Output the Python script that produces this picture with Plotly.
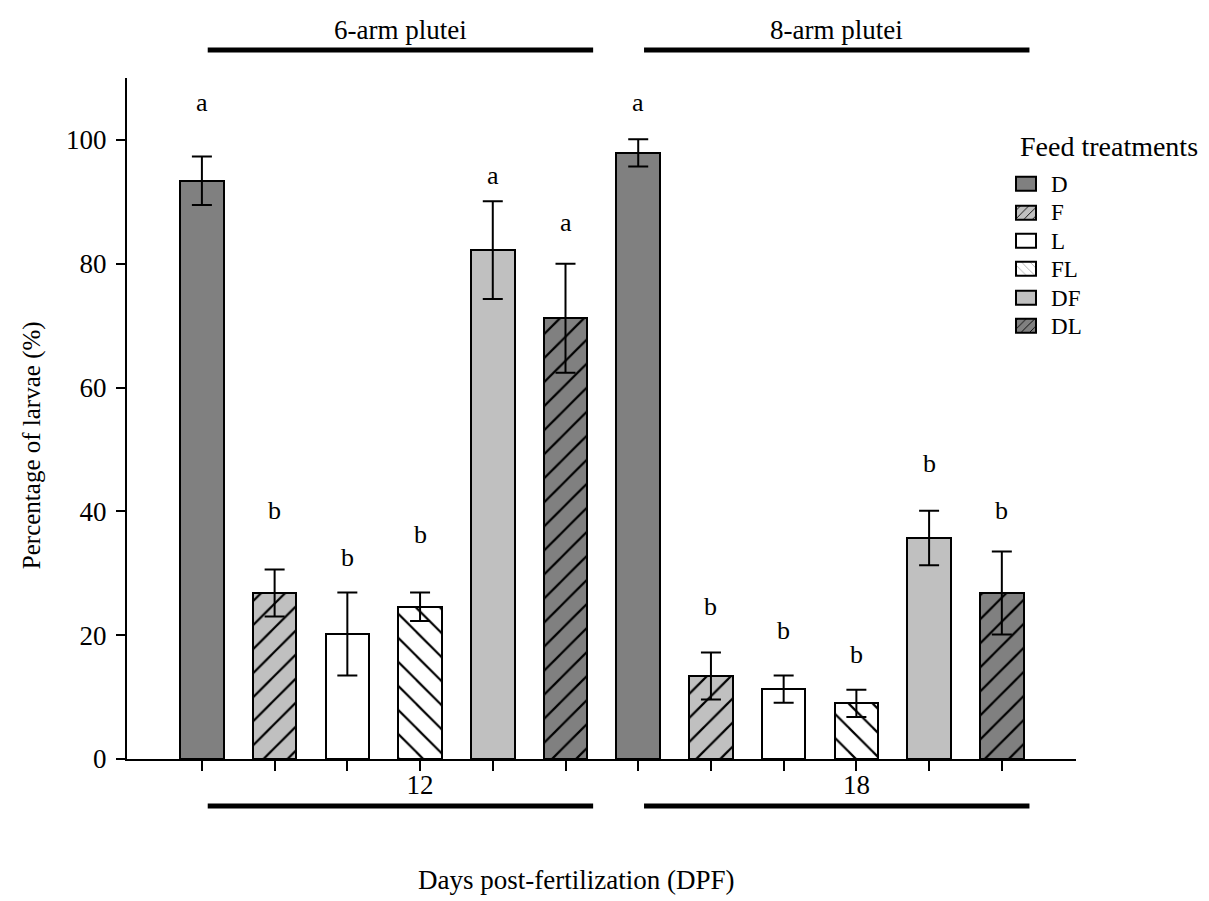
import plotly.graph_objects as go

# Feed treatments and their bar styles
treatments = ["D", "F", "L", "FL", "DF", "DL"]
fill_colors = ["#808080", "#c0c0c0", "#ffffff", "#ffffff", "#c0c0c0", "#808080"]
hatches = ["", "/", "", "\\", "", "/"]

# Percentage of larvae (mean and error) at 12 and 18 DPF
day12_mean = [93.4, 26.8, 20.2, 24.6, 82.2, 71.2]
day12_err = [3.9, 3.8, 6.7, 2.3, 7.9, 8.8]
day18_mean = [97.9, 13.4, 11.3, 9.0, 35.7, 26.8]
day18_err = [2.2, 3.8, 2.2, 2.2, 4.4, 6.7]

# Significance letters and the height they are written at
day12_letters = ["a", "b", "b", "b", "a", "a"]
day18_letters = ["a", "b", "b", "b", "b", "b"]
day12_letter_y = [106.0, 40.2, 32.6, 36.2, 94.2, 86.6]
day18_letter_y = [106.0, 24.7, 20.7, 16.8, 47.8, 40.2]

days = ["12", "18"]
stages = ["6-arm plutei", "8-arm plutei"]

FONT = "Liberation Serif"
n = len(treatments)

fig = go.Figure()

for i, t in enumerate(treatments):
    fig.add_trace(go.Bar(
        x=[i, i + n],
        y=[day12_mean[i], day18_mean[i]],
        width=0.6,
        name=t,
        marker=dict(
            color=fill_colors[i],
            line=dict(color="black", width=2),
            pattern=dict(shape=hatches[i], fgcolor="black", bgcolor=fill_colors[i],
                         size=17, solidity=0.13, fillmode="replace"),
        ),
        error_y=dict(type="data", array=[day12_err[i], day18_err[i]],
                     color="black", thickness=2, width=10),
        showlegend=False,
        xaxis="x", yaxis="y",
    ))

# Key: small swatches on their own axes, labelled by the treatment names
for i, t in enumerate(treatments):
    fig.add_trace(go.Bar(
        x=[1], y=[t], base=0, orientation="h", width=0.5,
        marker=dict(
            color=fill_colors[i],
            line=dict(color="black", width=2),
            pattern=dict(shape=hatches[i], fgcolor="black" if i != 3 else "#b0b0b0",
                         bgcolor=fill_colors[i], size=6, solidity=0.15, fillmode="replace"),
        ),
        showlegend=False, hoverinfo="skip",
        xaxis="x2", yaxis="y2",
    ))

annotations = []
letters = day12_letters + day18_letters
letter_y = day12_letter_y + day18_letter_y
for i, (txt, yy) in enumerate(zip(letters, letter_y)):
    annotations.append(dict(x=i, y=yy, xref="x", yref="y", text=txt, showarrow=False,
                            font=dict(family=FONT, size=26, color="black"),
                            xanchor="center", yanchor="middle"))

# Developmental stage brackets above and below each day group
shapes = []
for g in range(2):
    x0 = g * n + 0.08
    x1 = g * n + 5.38
    for yy in (1.041, -0.069):
        shapes.append(dict(type="line", xref="x", yref="paper", x0=x0, x1=x1, y0=yy, y1=yy,
                           line=dict(color="black", width=5)))
    annotations.append(dict(x=(x0 + x1) / 2, y=1.071, xref="x", yref="paper", text=stages[g],
                            showarrow=False, font=dict(family=FONT, size=27, color="black"),
                            xanchor="center", yanchor="middle"))

annotations.append(dict(x=0.473, y=-0.178, xref="paper", yref="paper",
                        text="Days post-fertilization (DPF)", showarrow=False,
                        font=dict(family=FONT, size=27, color="black"),
                        xanchor="center", yanchor="middle"))
annotations.append(dict(x=-0.1, y=0.461, xref="paper", yref="paper",
                        text="Percentage of larvae (%)", showarrow=False, textangle=-90,
                        font=dict(family=FONT, size=25, color="black"),
                        xanchor="center", yanchor="middle"))
annotations.append(dict(x=0.939, y=0.9, xref="paper", yref="paper",
                        text="Feed treatments", showarrow=False,
                        font=dict(family=FONT, size=28, color="black"),
                        xanchor="left", yanchor="middle"))

tick_text = [""] * (2 * n)
tick_text[3] = days[0]
tick_text[n + 3] = days[1]

fig.update_layout(
    width=1209, height=901,
    margin=dict(l=127, r=133, t=78, b=142),
    paper_bgcolor="white", plot_bgcolor="rgba(0,0,0,0)",
    font=dict(family=FONT, color="black", size=26),
    xaxis=dict(range=[-1.03, 12.02], tickvals=list(range(2 * n)), ticktext=tick_text,
               ticks="outside", ticklen=10, tickwidth=2, tickcolor="black",
               ticklabelstandoff=-9,
               showline=True, linecolor="black", linewidth=2, showgrid=False, zeroline=False,
               tickfont=dict(family=FONT, size=27, color="black")),
    yaxis=dict(range=[0, 110], tickvals=[0, 20, 40, 60, 80, 100],
               ticks="outside", ticklen=9, tickwidth=2, tickcolor="black",
               ticklabelstandoff=4,
               showline=True, linecolor="black", linewidth=2, showgrid=False, zeroline=False,
               tickfont=dict(family=FONT, size=27, color="black")),
    xaxis2=dict(domain=[0.9347, 0.9600], range=[-0.1, 1.1], anchor="y2",
                showticklabels=False, showgrid=False, zeroline=False, showline=False),
    yaxis2=dict(domain=[0.615, 0.8652], range=[5.5, -0.5], anchor="x2", side="right",
                type="category", categoryorder="array", categoryarray=treatments,
                showgrid=False, zeroline=False, showline=False, ticks="",
                ticklabelstandoff=12,
                tickfont=dict(family=FONT, size=23, color="black")),
    shapes=shapes,
    annotations=annotations,
    bargap=0,
)

fig.write_html("out.html")
